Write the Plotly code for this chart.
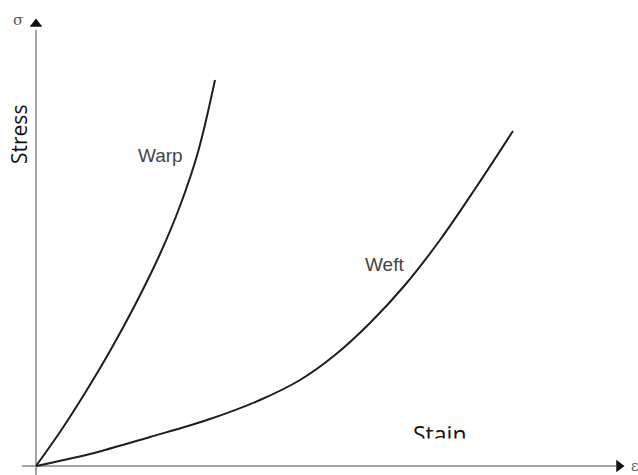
import plotly.graph_objects as go

# Stress-strain curves of a woven fabric (arbitrary units)
warp_strain = [0, 0.24, 0.49, 0.74, 0.99, 1.24, 1.44, 1.62, 1.79]
warp_stress = [0, 0.34, 0.73, 1.15, 1.61, 2.12, 2.60, 3.14, 3.86]

weft_strain = [0, 0.54, 1.14, 1.74, 2.24, 2.64, 2.99, 3.34, 3.69, 4.04, 4.39, 4.77]
weft_stress = [0, 0.12, 0.29, 0.47, 0.66, 0.86, 1.11, 1.43, 1.81, 2.26, 2.77, 3.35]

X_RANGE = [-0.36, 6.02]
Y_RANGE = [-0.09, 4.66]
AXIS_GRAY = "#a3a3a3"
CURVE = "#1e1e1e"

fig = go.Figure()

for xs, ys in [(warp_strain, warp_stress), (weft_strain, weft_stress)]:
    fig.add_trace(go.Scatter(
        x=xs, y=ys, mode="lines",
        line=dict(color=CURVE, width=2, shape="spline", smoothing=1.0),
        hoverinfo="skip", showlegend=False,
    ))

# axis lines
fig.add_shape(type="line", x0=0, x1=0, y0=Y_RANGE[0], y1=4.36,
              line=dict(color=AXIS_GRAY, width=2), layer="below")
fig.add_shape(type="line", x0=-0.14, x1=5.8, y0=0, y1=0,
              line=dict(color=AXIS_GRAY, width=2), layer="below")

# arrow heads
fig.add_trace(go.Scatter(x=[0], y=[4.42], mode="markers",
                         marker=dict(symbol="triangle-up", size=11, color="#111"),
                         hoverinfo="skip", showlegend=False))
fig.add_trace(go.Scatter(x=[5.83], y=[0], mode="markers",
                         marker=dict(symbol="triangle-right", size=11, color="#111"),
                         hoverinfo="skip", showlegend=False))

ann = [
    dict(x=-0.18, y=4.46, text="σ", font=dict(family="DejaVu Serif", size=15, color="#555")),
    dict(x=5.93, y=0.0, text="ε", xanchor="left",
         font=dict(family="DejaVu Serif", size=14, color="#555")),
    dict(x=-0.17, y=3.31, text="Stress", textangle=-90,
         font=dict(family="Open Sans", size=21, color="#111")),
    dict(x=1.24, y=3.11, text="Warp",
         font=dict(family="Liberation Sans", size=19, color="#444")),
    dict(x=3.48, y=2.02, text="Weft",
         font=dict(family="Liberation Sans", size=19, color="#444")),
    dict(x=4.04, y=0.32, text="Stain",
         font=dict(family="Open Sans", size=23, color="#111")),
    # white strip trimming the lower edge of the label
    dict(x=4.04, y=0.22, text=" ", bgcolor="white", width=80, height=8,
         font=dict(size=4)),
]
for a in ann:
    a.setdefault("xref", "x")
    a.setdefault("yref", "y")
    a.setdefault("showarrow", False)
    fig.add_annotation(**a)

fig.update_xaxes(range=X_RANGE, visible=False, fixedrange=True)
fig.update_yaxes(range=Y_RANGE, visible=False, fixedrange=True)
fig.update_layout(
    width=638, height=475, autosize=False,
    margin=dict(l=0, r=0, t=0, b=0),
    paper_bgcolor="white", plot_bgcolor="white",
)

fig.write_html("out.html")
